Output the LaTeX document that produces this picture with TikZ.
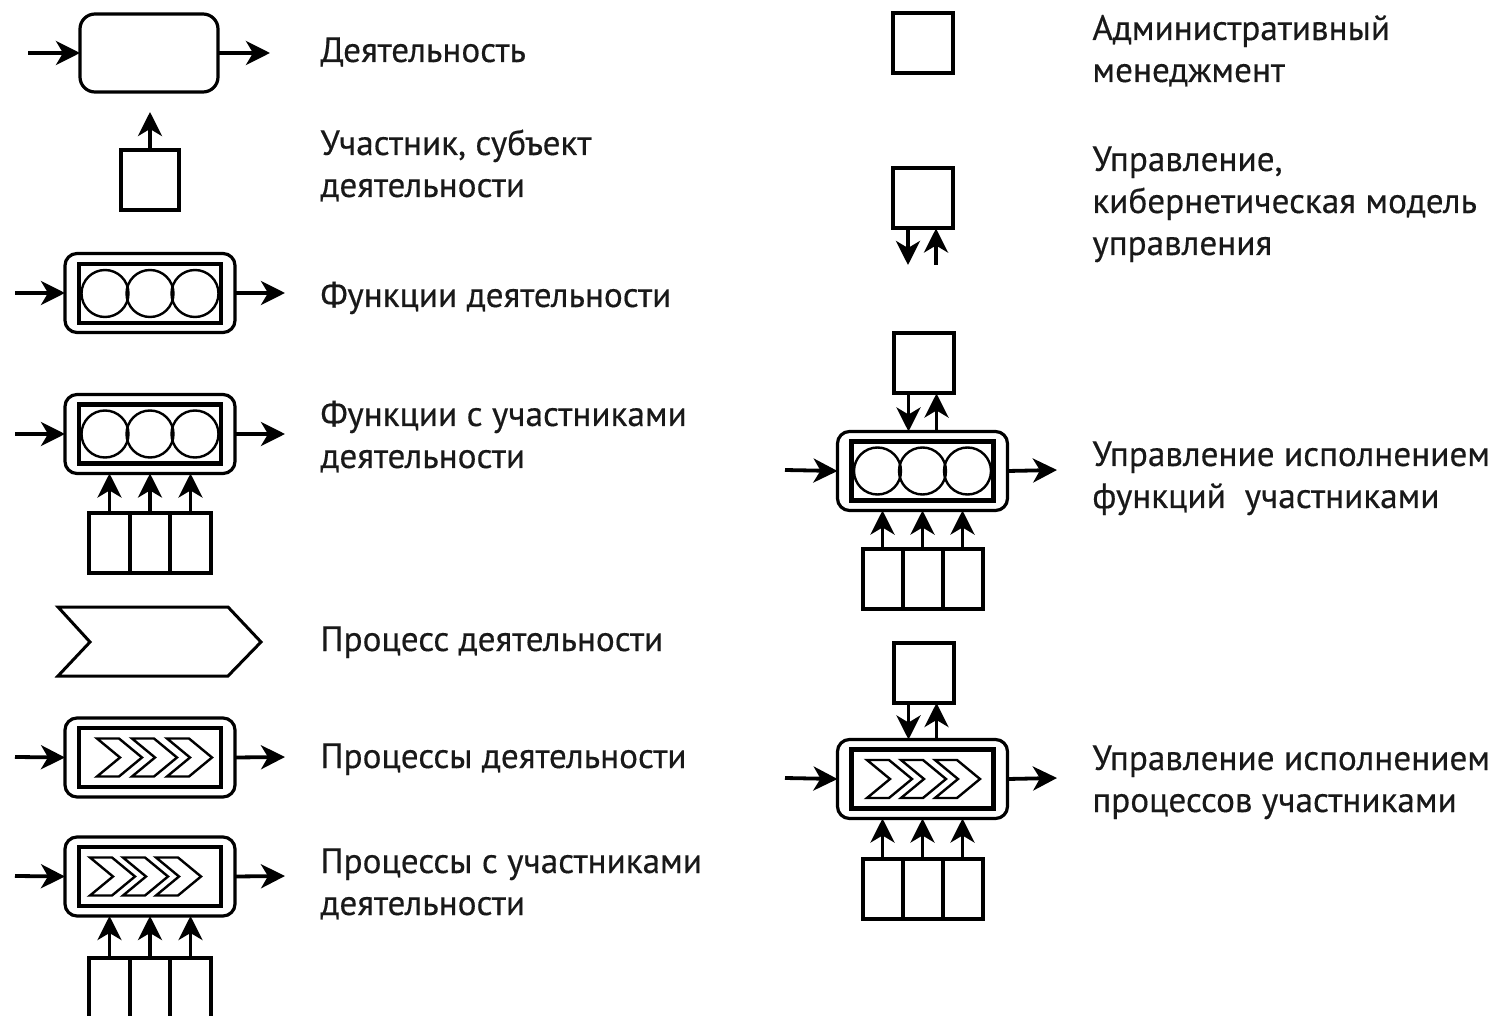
\documentclass[tikz,border=0pt]{standalone}
\usepackage{fontspec}
\setmainfont[FakeBold=0.4]{PT Sans}
\usetikzlibrary{arrows.meta}

\tikzset{
  arr/.style={line width=1.9pt, -{Stealth[length=12pt,width=12pt,inset=3.5pt]}},
  sq/.style={draw, line width=2pt, minimum width=30pt, minimum height=30pt, inner sep=0pt, outer sep=0pt},
  cell/.style={draw, line width=2pt, minimum width=20.25pt, minimum height=30pt, inner sep=0pt, outer sep=0pt},
  frame/.style={draw, line width=1.6pt, rounded corners=6pt, minimum width=85pt, minimum height=39.5pt, inner sep=0pt, outer sep=0pt},
  core/.style={draw, line width=2.3pt, minimum width=71pt, minimum height=29.5pt, inner sep=0pt, outer sep=0pt},
  ring/.style={draw, circle, line width=1.2pt, minimum size=23.5pt, inner sep=0pt},
  chev/.style={line width=1.2pt, line join=miter},
  bigchev/.style={line width=1.5pt, line join=miter},
  lbl/.style={anchor=base west, align=left, inner sep=0pt, text=black!90,
              font=\fontsize{17.6}{21}\selectfont},
}

% one small outlined chevron: left x, middle y (picture units)
\newcommand\chevmark[2]{%
  \draw[chev] ({#1},{#2-19}) -- ++(22,0) -- ++(23,19) -- ++(-23,19)
    -- ++(-22,0) -- ++(23,-19) -- cycle;}

\begin{document}
\begin{tikzpicture}[x=0.5pt, y=-0.5pt]
\clip (0,0) rectangle (1496,1016);
\fill[white] (0,0) rectangle (1496,1016);

% ---------- left column ----------
% activity
\node[frame, rounded corners=7.5pt, minimum width=69pt, minimum height=39pt] (act) at (149,53) {};
\coordinate (actIn) at (28,53);
\coordinate (actOut) at (270,53);
\draw[arr] (actIn) -- (act.west);
\draw[arr] (act.east) -- (actOut);

% participant
\node[sq, minimum width=29pt] (part) at (150,180) {};
\coordinate (partUp) at (150,112);
\draw[arr] (part.north) -- (partUp);

% functions
\node[frame] (fn) at (150,293) {};
\node[core] (fnCore) at (150,293.5) {};
\foreach \x [count=\i] in {105,150,195} \node[ring] (fnR\i) at (\x,293.5) {};
\coordinate (fnIn) at (15,293);
\coordinate (fnOut) at (285,293);
\draw[arr] (fnIn) -- (fn.west);
\draw[arr] (fn.east) -- (fnOut);

% functions with participants
\node[frame] (fp) at (150,434) {};
\node[core] (fpCore) at (150,434) {};
\foreach \x [count=\i] in {105,150,195} \node[ring] (fpR\i) at (\x,434) {};
\coordinate (fpIn) at (15,434);
\coordinate (fpOut) at (285,434);
\draw[arr] (fpIn) -- (fp.west);
\draw[arr] (fp.east) -- (fpOut);
\foreach \x [count=\i] in {109.5,150,190.5} {
  \node[cell] (fpC\i) at (\x,543) {};
  \draw[arr] (fpC\i.north) -- (fpC\i.north |- fp.south);
}

% process
\draw[bigchev] (58,607) -- (228,607) -- (261,642) -- (228,676) -- (58,676) -- (90,642) -- cycle;

% processes
\node[frame] (pr) at (150,757.5) {};
\node[core] (prCore) at (150,757.5) {};
\chevmark{97}{757.5}\chevmark{132}{757.5}\chevmark{167}{757.5}
\coordinate (prIn) at (15,757);
\coordinate (prOut) at (285,757);
\draw[arr] (prIn) -- (pr.west);
\draw[arr] (pr.east) -- (prOut);

% processes with participants
\node[frame] (pp) at (150,876.5) {};
\node[core] (ppCore) at (150,876.5) {};
\chevmark{90}{876.5}\chevmark{123}{876.5}\chevmark{156}{876.5}
\coordinate (ppIn) at (15,876);
\coordinate (ppOut) at (285,876);
\draw[arr] (ppIn) -- (pp.west);
\draw[arr] (pp.east) -- (ppOut);
\foreach \x [count=\i] in {109.5,150,190.5} {
  \node[cell] (ppC\i) at (\x,988) {};
  \draw[arr] (ppC\i.north) -- (ppC\i.north |- pp.south);
}

% ---------- right column ----------
% administrative management
\node[sq] (adm) at (923,43.5) {};

% control
\node[sq] (ctl) at (923,198.5) {};
\coordinate (ctlDown) at (908,265);
\coordinate (ctlUp) at (936,265);
\draw[arr] (ctlDown |- ctl.south) -- (ctlDown);
\draw[arr] (ctlUp) -- (ctlUp |- ctl.south);

% controlled functions
\node[sq] (fcm) at (923.5,363.5) {};
\node[frame] (fc) at (922.5,471) {};
\node[core] (fcCore) at (922.5,471) {};
\foreach \x [count=\i] in {877.5,922.5,967.5} \node[ring] (fcR\i) at (\x,471) {};
\draw[arr] ([xshift=-7.5pt]fcm.south) -- ([xshift=-7.5pt]fcm.south |- fc.north);
\draw[arr] ([xshift=6.5pt]fcm.south |- fc.north) -- ([xshift=6.5pt]fcm.south);
\coordinate (fcIn) at (785,470);
\coordinate (fcOut) at (1057,470);
\draw[arr] (fcIn) -- (fc.west);
\draw[arr] (fc.east) -- (fcOut);
\foreach \x [count=\i] in {882.5,922.5,962.5} {
  \node[cell, minimum width=20pt] (fcC\i) at (\x,579) {};
  \draw[arr] (fcC\i.north) -- (fcC\i.north |- fc.south);
}

% controlled processes
\node[sq] (pcm) at (923.5,673) {};
\node[frame] (pc) at (922.5,779) {};
\node[core] (pcCore) at (922.5,779) {};
\chevmark{867}{779}\chevmark{901}{779}\chevmark{935}{779}
\draw[arr] ([xshift=-7.5pt]pcm.south) -- ([xshift=-7.5pt]pcm.south |- pc.north);
\draw[arr] ([xshift=6.5pt]pcm.south |- pc.north) -- ([xshift=6.5pt]pcm.south);
\coordinate (pcIn) at (785,778);
\coordinate (pcOut) at (1057,778);
\draw[arr] (pcIn) -- (pc.west);
\draw[arr] (pc.east) -- (pcOut);
\foreach \x [count=\i] in {882.5,922.5,962.5} {
  \node[cell, minimum width=20pt] (pcC\i) at (\x,889) {};
  \draw[arr] (pcC\i.north) -- (pcC\i.north |- pc.south);
}

% ---------- labels (anchored at the baseline of the last line) ----------
\node[lbl] (tAct) at (320,62) {Деятельность};
\node[lbl] (tPart) at (320,197) {Участник, субъект\\деятельности};
\node[lbl] (tFn) at (320,307) {Функции деятельности};
\node[lbl] (tFp) at (320,468) {Функции с участниками\\деятельности};
\node[lbl] (tProc) at (320,651) {Процесс деятельности};
\node[lbl] (tPr) at (320,768) {Процессы деятельности};
\node[lbl] (tPp) at (320,915) {Процессы с участниками\\деятельности};
\node[lbl] (tAdm) at (1092,82) {Административный\\менеджмент};
\node[lbl] (tCtl) at (1092,255) {Управление,\\кибернетическая модель\\управления};
\node[lbl] (tFc) at (1092,508) {Управление исполнением\\функций\ \ участниками};
\node[lbl] (tPc) at (1092,812) {Управление исполнением\\процессов участниками};
\end{tikzpicture}
\end{document}
